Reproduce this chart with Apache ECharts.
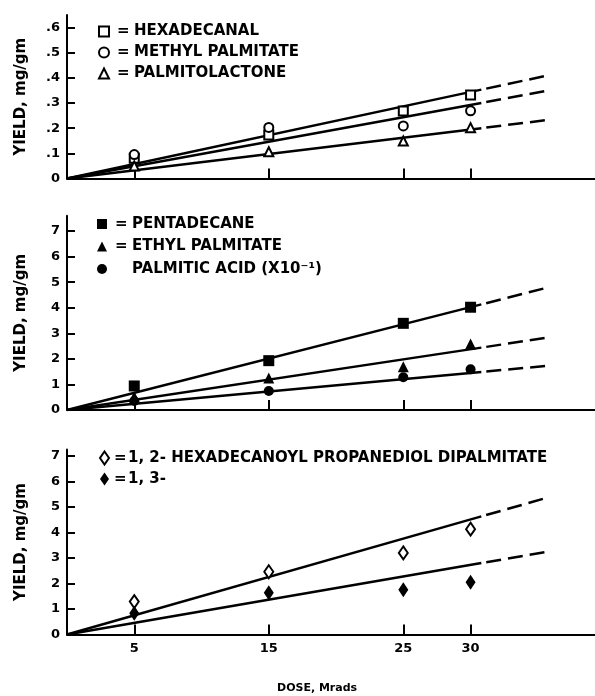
<!DOCTYPE html>
<html><head><meta charset="utf-8">
<script src="https://cdn.jsdelivr.net/npm/echarts/dist/echarts.min.js"></script>
<style>html,body{margin:0;padding:0;background:#fff}#c{width:595px;height:696px}</style>
</head><body><div id="c"></div>
<script>
// ---- data ----
const doses = [5, 15, 25, 30];
const xTickValues = [5, 15, 25, 30];
const fitX = [0, 30.8, 35.8];           // fitted line: solid 0..30.8, dashed extrapolation to 35.8

// top panel (mg/gm)
const hexadecanal      = [0.08, 0.173, 0.268, 0.332];
const methylPalmitate  = [0.095, 0.203, 0.209, 0.269];
const palmitolactone   = [0.05, 0.106, 0.149, 0.202];
const hexadecanalFit     = [0, 0.353, 0.41];
const methylPalmitateFit = [0, 0.30, 0.35];
const palmitolactoneFit  = [0, 0.20, 0.233];
const topTicks = [0, 0.1, 0.2, 0.3, 0.4, 0.5, 0.6];

// middle panel (mg/gm)
const pentadecane     = [0.94, 1.93, 3.39, 4.02];
const ethylPalmitate  = [0.52, 1.25, 1.69, 2.58];
const palmiticAcid    = [0.35, 0.74, 1.28, 1.59];
const pentadecaneFit    = [0, 4.13, 4.8];
const ethylPalmitateFit = [0, 2.44, 2.84];
const palmiticAcidFit   = [0, 1.49, 1.73];
const midTicks = [0, 1, 2, 3, 4, 5, 6, 7];

// bottom panel (mg/gm)
const dipalmitate12 = [1.29, 2.46, 3.2, 4.13];
const dipalmitate13 = [0.83, 1.64, 1.75, 2.05];
const dipalmitate12Fit = [0, 4.63, 5.38];
const dipalmitate13Fit = [0, 2.80, 3.25];
const botTicks = [0, 1, 2, 3, 4, 5, 6, 7];

const names = {
  hex: 'HEXADECANAL', methyl: 'METHYL PALMITATE', lact: 'PALMITOLACTONE',
  pent: 'PENTADECANE', ethyl: 'ETHYL PALMITATE', acid: 'PALMITIC ACID (X10⁻¹)',
  d12: '1, 2- HEXADECANOYL PROPANEDIOL DIPALMITATE', d13: '1, 3-'
};

// ---- chart ----
const FONT = '"DejaVu Sans", sans-serif';
const grids = [
  {left: 67, width: 528, top: 14.9, height: 163.6},
  {left: 67, width: 528, top: 215.7, height: 194.3},
  {left: 67, width: 528, top: 449.6, height: 184.9}
];
const yMax = [0.65, 7.6, 7.25];
const yTicks = [topTicks, midTicks, botTicks];

const xAxes = grids.map((g, i) => ({
  gridIndex: i, type: 'value', min: 0, max: 39.25,
  axisLine: {show: true, onZero: false, lineStyle: {color: '#000', width: 2}},
  axisTick: {show: true, inside: true, length: 10, customValues: xTickValues, lineStyle: {color: '#000', width: 2}},
  axisLabel: {show: i === 2, customValues: xTickValues, color: '#000', fontWeight: 'bold', fontSize: 13, fontFamily: FONT, margin: 8},
  splitLine: {show: false}
}));
const yAxes = grids.map((g, i) => ({
  gridIndex: i, type: 'value', min: 0, max: yMax[i],
  axisLine: {show: true, onZero: false, lineStyle: {color: '#000', width: 2}},
  axisTick: {show: true, inside: true, length: 8, customValues: yTicks[i], lineStyle: {color: '#000', width: 2}},
  axisLabel: {customValues: yTicks[i], color: '#000', fontWeight: 'bold', fontSize: 13, fontFamily: FONT, margin: 7,
    formatter: v => (i === 0 ? (v === 0 ? '0' : '.' + Math.round(v * 10)) : String(v))},
  splitLine: {show: false},
  name: 'YIELD, mg/gm', nameLocation: 'middle', nameRotate: 90, nameGap: 38,
  nameTextStyle: {color: '#000', fontWeight: 'bold', fontSize: 15, fontFamily: FONT}
}));

const series = [];
function addCompound(idx, name, vals, fit, symbol, size, filled) {
  series.push({
    type: 'line', xAxisIndex: idx, yAxisIndex: idx, silent: true, showSymbol: false, symbol: 'none',
    data: [[fitX[0], fit[0]], [fitX[1], fit[1]]],
    lineStyle: {color: '#000', width: 2.5}, z: 2
  });
  series.push({
    type: 'line', xAxisIndex: idx, yAxisIndex: idx, silent: true, showSymbol: false, symbol: 'none',
    data: [[fitX[1], fit[1]], [fitX[2], fit[2]]],
    lineStyle: {color: '#000', width: 2.5, type: [15, 7], dashOffset: 17}, z: 2
  });
  series.push({
    name: name, type: 'scatter', xAxisIndex: idx, yAxisIndex: idx, symbol: symbol, symbolSize: size,
    data: doses.map((d, k) => [d, vals[k]]),
    itemStyle: filled ? {color: '#000', borderWidth: 0, opacity: 1} : {color: '#fff', borderColor: '#000', borderWidth: 2, opacity: 1},
    z: 5
  });
}
addCompound(0, names.hex, hexadecanal, hexadecanalFit, 'rect', 9, false);
addCompound(0, names.methyl, methylPalmitate, methylPalmitateFit, 'circle', 9, false);
addCompound(0, names.lact, palmitolactone, palmitolactoneFit, 'triangle', 9, false);
addCompound(1, names.pent, pentadecane, pentadecaneFit, 'rect', 11, true);
addCompound(1, names.ethyl, ethylPalmitate, ethylPalmitateFit, 'triangle', 11, true);
addCompound(1, names.acid, palmiticAcid, palmiticAcidFit, 'circle', 10, true);
addCompound(2, names.d12, dipalmitate12, dipalmitate12Fit, 'diamond', [9, 13], false);
addCompound(2, names.d13, dipalmitate13, dipalmitate13Fit, 'diamond', [10, 15], true);

const openStyle = {color: '#fff', borderColor: '#000', borderWidth: 2, opacity: 1};
const fillStyle = {color: '#000', borderWidth: 0, opacity: 1};
function legend(left, top, gap, iw, ih, eqW, eqPad, items) {
  return {
    left: left, top: top, orient: 'vertical', itemGap: gap, itemWidth: iw, itemHeight: ih,
    padding: 0, selectedMode: false,
    data: items.map(it => ({name: it.name, icon: it.icon, itemStyle: it.open ? openStyle : fillStyle})),
    formatter: n => (n === names.acid ? '{eq| }{t|' + n + '}' : '{eq|=}{t|' + n + '}'),
    textStyle: {
      color: '#000', fontWeight: 'bold', fontSize: 15, fontFamily: FONT, lineHeight: 15,
      rich: {
        eq: {width: eqW, fontWeight: 'bold', fontSize: 15, fontFamily: FONT, lineHeight: 15, padding: [0, 0, 0, eqPad]},
        t: {fontWeight: 'bold', fontSize: 15, fontFamily: FONT, lineHeight: 15}
      }
    }
  };
}

const option = {
  animation: false,
  backgroundColor: '#fff',
  grid: grids,
  xAxis: xAxes,
  yAxis: yAxes,
  series: series,
  legend: [
    legend(98, 24, 6, 10, 10, 17, 3, [
      {name: names.hex, icon: 'rect', open: true},
      {name: names.methyl, icon: 'circle', open: true},
      {name: names.lact, icon: 'triangle', open: true}]),
    legend(97, 216.5, 7.5, 10, 10, 17, 3, [
      {name: names.pent, icon: 'rect', open: false},
      {name: names.ethyl, icon: 'triangle', open: false},
      {name: names.acid, icon: 'circle', open: false}]),
    legend(99, 450.5, 6, 9, 13, 14, 0, [
      {name: names.d12, icon: 'diamond', open: true},
      {name: names.d13, icon: 'diamond', open: false}])
  ],
  graphic: [{
    type: 'text', left: 277, top: 683,
    style: {text: 'DOSE, Mrads', fill: '#000', font: 'bold 11px "DejaVu Sans", sans-serif'}
  }]
};
const chart = echarts.init(document.getElementById('c'), null, {renderer: 'canvas'});
chart.setOption(option);
</script>
</body></html>
